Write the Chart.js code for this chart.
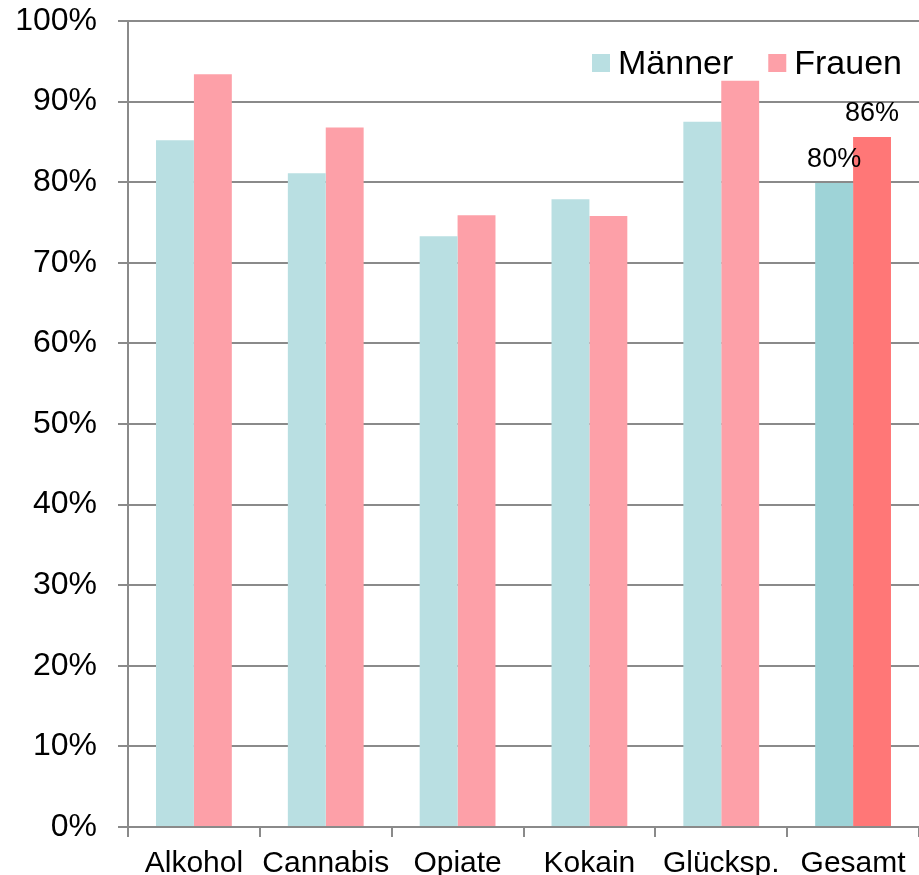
<!DOCTYPE html>
<html>
<head>
<meta charset="utf-8">
<script src="https://cdn.jsdelivr.net/npm/chart.js@4.4.1/dist/chart.umd.min.js"></script>
<style>
  html, body { margin: 0; padding: 0; background: #fff; }
  #wrap { width: 919px; height: 875px; }
</style>
</head>
<body>
<div id="wrap"><canvas id="chart" width="919" height="875"></canvas></div>
<script>
// Data
const categories = ['Alkohol', 'Cannabis', 'Opiate', 'Kokain', 'Glücksspiel', 'Gesamt'];
const tickLabels = ['Alkohol', 'Cannabis', 'Opiate', 'Kokain', 'Glücksp.', 'Gesamt'];
const maenner = [85.2, 81.1, 73.3, 77.9, 87.5, 79.9];
const frauen = [93.4, 86.8, 75.9, 75.8, 92.6, 85.6];
const labelledIndex = 5; // only "Gesamt" carries value labels

const colors = {
  m: '#b9dfe2', mDark: '#9ed3d7',
  f: '#fda0a8', fDark: '#ff7777',
  grid: '#8a8a8a'
};
const FONT = '"Liberation Sans", Arial, sans-serif';

// value labels above the Gesamt bars
const valueLabels = {
  id: 'valueLabels',
  afterDatasetsDraw(chart) {
    const ctx = chart.ctx;
    ctx.save();
    ctx.font = '27px ' + FONT;
    ctx.fillStyle = '#000';
    ctx.textAlign = 'center';
    ctx.textBaseline = 'alphabetic';
    chart.data.datasets.forEach(function (ds, i) {
      const bar = chart.getDatasetMeta(i).data[labelledIndex];
      if (!bar) return;
      ctx.fillText(Math.round(ds.data[labelledIndex]) + '%', bar.x, bar.y - 16);
    });
    ctx.restore();
  }
};

// legend in the top right corner of the plot
const cornerLegend = {
  id: 'cornerLegend',
  afterDraw(chart) {
    const ctx = chart.ctx;
    const area = chart.chartArea;
    const sets = chart.data.datasets;
    const box = 18, gap = 8, between = 35;
    const cy = area.top + 42;
    ctx.save();
    ctx.font = '34px ' + FONT;
    ctx.textBaseline = 'middle';
    ctx.textAlign = 'left';
    let right = area.right - 17;
    for (let i = sets.length - 1; i >= 0; i--) {
      const w = ctx.measureText(sets[i].label).width;
      const tx = right - w;
      const bx = tx - gap - box;
      ctx.fillStyle = i === 0 ? colors.m : colors.f;
      ctx.fillRect(bx, cy - box / 2, box, box);
      ctx.fillStyle = '#000';
      ctx.fillText(sets[i].label, tx, cy + 2);
      right = bx - between;
    }
    ctx.restore();
  }
};

new Chart(document.getElementById('chart'), {
  type: 'bar',
  data: {
    labels: tickLabels,
    datasets: [{
      label: 'Männer',
      data: maenner,
      backgroundColor: c => c.dataIndex === labelledIndex ? colors.mDark : colors.m
    }, {
      label: 'Frauen',
      data: frauen,
      backgroundColor: c => c.dataIndex === labelledIndex ? colors.fDark : colors.f
    }]
  },
  options: {
    responsive: false,
    animation: false,
    layout: { padding: { top: 21, right: 0, left: 0, bottom: 0 } },
    datasets: {
      bar: { categoryPercentage: 0.575, barPercentage: 1.0 }
    },
    plugins: {
      legend: { display: false },
      tooltip: { enabled: false }
    },
    scales: {
      x: {
        grid: { drawOnChartArea: false, drawTicks: true, tickLength: 10, color: colors.grid, lineWidth: 2, offset: true },
        border: { color: colors.grid, width: 2 },
        ticks: {
          color: '#000',
          padding: 9,
          maxRotation: 0,
          autoSkip: false,
          font: { family: FONT, size: 30 }
        },
        afterFit(scale) { scale.height = 48; }
      },
      y: {
        min: 0,
        max: 100,
        grid: { color: colors.grid, lineWidth: 2, tickLength: 10 },
        border: { color: colors.grid, width: 2 },
        ticks: {
          stepSize: 10,
          color: '#000',
          padding: 21,
          font: { family: FONT, size: 32 },
          callback: v => v + '%'
        },
        afterFit(scale) {
          scale.width = 128;
          scale.paddingTop = 0;
          scale.paddingBottom = 0;
        }
      }
    }
  },
  plugins: [valueLabels, cornerLegend]
});
</script>
</body>
</html>
